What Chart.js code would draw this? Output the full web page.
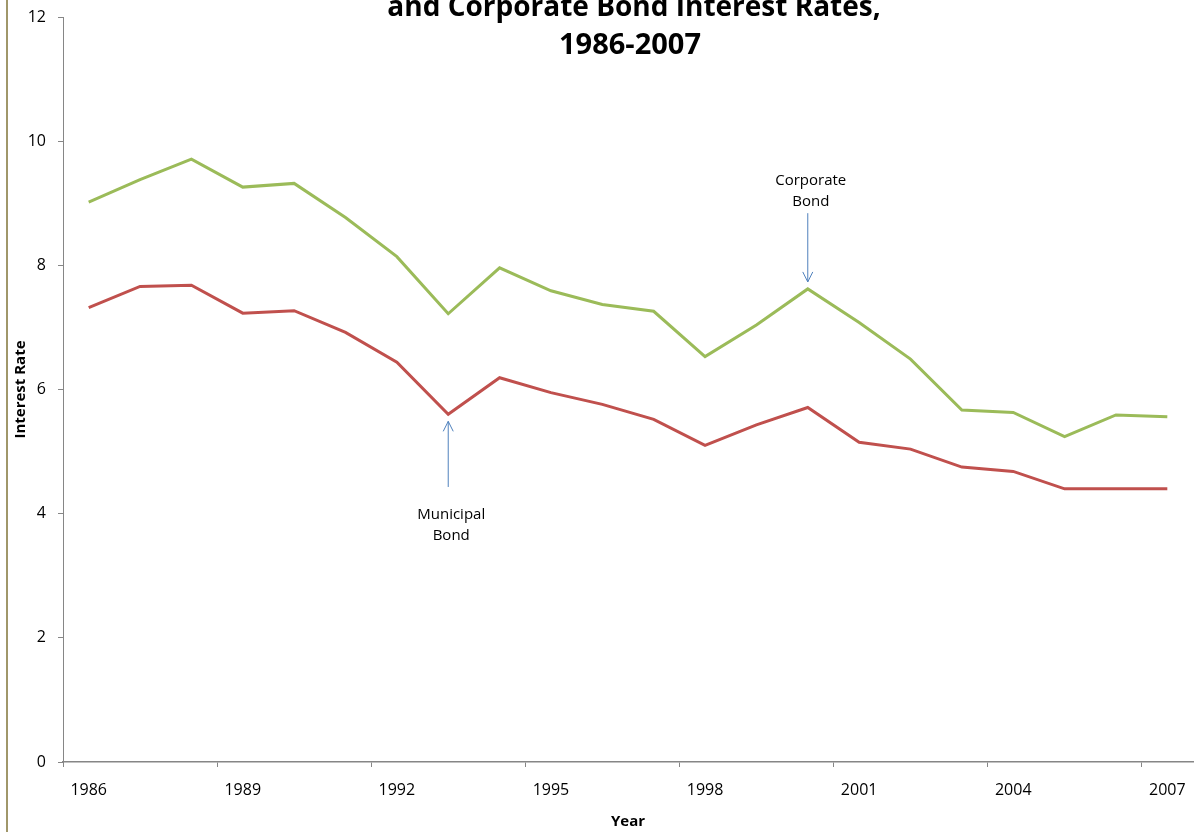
<!DOCTYPE html>
<html>
<head>
<meta charset="utf-8">
<script src="https://cdn.jsdelivr.net/npm/chart.js@4.4.1/dist/chart.umd.min.js"></script>
<style>
  html, body { margin: 0; padding: 0; background: #fff; }
  #wrap { width: 1196px; height: 832px; position: relative; }
</style>
</head>
<body>
<div id="wrap"><canvas id="chart"></canvas></div>
<script>
// data
const years = ["1986", "1987", "1988", "1989", "1990", "1991", "1992", "1993", "1994", "1995", "1996",
  "1997", "1998", "1999", "2000", "2001", "2002", "2003", "2004", "2005", "2006", "2007"];
const corporate = [9.02, 9.38, 9.71, 9.26, 9.32, 8.77, 8.14, 7.22, 7.96, 7.59, 7.37,
  7.26, 6.53, 7.04, 7.62, 7.08, 6.49, 5.67, 5.63, 5.24, 5.59, 5.56];
const municipal = [7.32, 7.66, 7.68, 7.23, 7.27, 6.92, 6.44, 5.60, 6.19, 5.95, 5.76,
  5.52, 5.10, 5.43, 5.71, 5.15, 5.04, 4.75, 4.68, 4.40, 4.40, 4.40];
const titleLines = ["and Corporate Bond Interest Rates,", "1986-2007"];
const yTicks = [0, 2, 4, 6, 8, 10, 12];

// callouts: text lines, year index, series, tail value and text value (in data units)
const callouts = [
  { lines: ["Corporate", "Bond"], index: 14, series: corporate, tail: 8.84, textAt: 9.36 },
  { lines: ["Municipal", "Bond"], index: 7, series: municipal, tail: 4.43, textAt: 3.98 },
];

const GRAY = "#868686";

const ctx = document.getElementById("chart");

new Chart(ctx, {
  type: "line",
  data: {
    labels: years,
    datasets: [
      {
        label: "Corporate Bond",
        data: corporate,
        borderColor: "#9bbb59",
        borderWidth: 3,
        pointRadius: 0,
        pointHoverRadius: 0,
        tension: 0,
      },
      {
        label: "Municipal Bond",
        data: municipal,
        borderColor: "#c0504d",
        borderWidth: 3,
        pointRadius: 0,
        pointHoverRadius: 0,
        tension: 0,
      },
    ],
  },
  options: {
    responsive: true,
    maintainAspectRatio: false,
    animation: false,
    events: [],
    layout: { padding: { top: 17, right: 3, left: 0, bottom: 0 } },
    plugins: {
      legend: { display: false },
      tooltip: { enabled: false },
    },
    scales: {
      x: {
        type: "category",
        offset: true,
        afterFit: (scale) => {
          scale.height = 70;
          scale.paddingLeft = 0;
          scale.paddingRight = 0;
        },
        grid: {
          offset: true,
          drawOnChartArea: false,
          tickLength: 5,
          tickColor: (c) => (c.index !== undefined && c.index % 3 === 0 ? GRAY : "rgba(0,0,0,0)"),
        },
        border: { color: GRAY, width: 1.5 },
        ticks: {
          autoSkip: false,
          maxRotation: 0,
          padding: 14,
          color: "#000",
          font: { family: "Open Sans", size: 16 },
          callback: function (value, index) {
            return index % 3 === 0 ? years[index] : "";
          },
        },
        title: {
          display: true,
          text: "Year",
          color: "#000",
          font: { family: "Open Sans", size: 15, weight: "bold" },
          padding: { top: 0, bottom: 1 },
        },
      },
      y: {
        min: 0,
        max: 12,
        afterFit: (scale) => {
          scale.width = 63;
          scale.paddingTop = 0;
          scale.paddingBottom = 0;
        },
        afterBuildTicks: (scale) => { scale.ticks = yTicks.map((v) => ({ value: v })); },
        grid: { drawOnChartArea: false, tickLength: 5, tickColor: GRAY },
        border: { color: GRAY, width: 1 },
        ticks: {
          padding: 12,
          color: "#000",
          font: { family: "Open Sans", size: 16 },
        },
        title: {
          display: true,
          text: "Interest Rate",
          color: "#000",
          font: { family: "Open Sans", size: 15, weight: "bold" },
          padding: { top: 12, bottom: 0 },
        },
      },
    },
  },
  plugins: [
    {
      id: "frame",
      beforeDraw: (chart) => {
        const c = chart.ctx;
        c.save();
        c.fillStyle = "#fff";
        c.fillRect(0, 0, chart.width, chart.height);
        // left edge of the outer chart border
        c.fillStyle = "#a0976a";
        c.fillRect(6, 0, 2, chart.height);
        c.restore();
      },
    },
    {
      id: "titleAndCallouts",
      afterDraw: (chart) => {
        const c = chart.ctx;
        const xs = chart.scales.x;
        const ys = chart.scales.y;
        c.save();
        // title (top of it is cut off in the original)
        c.fillStyle = "#000";
        c.textAlign = "center";
        c.textBaseline = "alphabetic";
        c.font = "bold 28px 'Open Sans'";
        c.fillText(titleLines[0], 634, 16);
        c.font = "bold 29px 'Open Sans'";
        c.fillText(titleLines[1], 630, 54);

        // callout arrows and text
        c.font = "15px 'Open Sans'";
        c.textBaseline = "middle";
        callouts.forEach((a) => {
          const x = xs.getPixelForValue(a.index);
          const py = ys.getPixelForValue(a.series[a.index]);
          const ty = ys.getPixelForValue(a.tail);
          const dir = ty < py ? -1 : 1; // -1: tail above point
          const tipY = py + dir * 7;
          c.strokeStyle = "#4f81bd";
          c.lineWidth = 1;
          c.beginPath();
          c.moveTo(x, ty);
          c.lineTo(x, tipY);
          c.moveTo(x - 5, tipY + dir * 10);
          c.lineTo(x, tipY);
          c.lineTo(x + 5, tipY + dir * 10);
          c.stroke();
          const textY = ys.getPixelForValue(a.textAt);
          a.lines.forEach((ln, i) => {
            c.fillText(ln, x + 3, textY + i * 21);
          });
        });
        c.restore();
      },
    },
  ],
});
</script>
</body>
</html>
